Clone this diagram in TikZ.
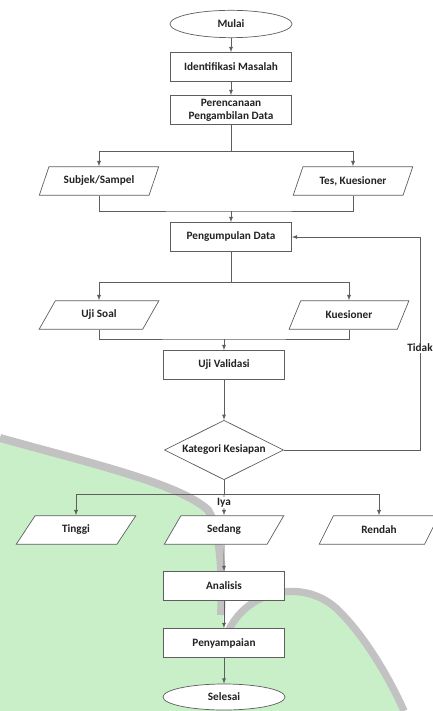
\documentclass[tikz,border=0pt]{standalone}
\usepackage{fontspec}
\setmainfont{Carlito}
\usepackage{tikz}
\usetikzlibrary{arrows,shapes.geometric}

\definecolor{linegray}{HTML}{5E5E5E}
\definecolor{textgray}{HTML}{222222}
\definecolor{wmgreen}{HTML}{C9EFC9}
\definecolor{wmgray}{HTML}{C2C2C2}

\tikzset{
    base/.style={draw=linegray, line width=0.6pt, fill=white, text=textgray,
        font=\bfseries\fontsize{9.6}{11}\selectfont, inner sep=1pt, align=center},
    terminal/.style={base, ellipse, minimum width=3.66cm, minimum height=0.82cm},
    process/.style={base, rectangle, minimum width=3.63cm, minimum height=0.87cm},
    data/.style={base, trapezium, trapezium left angle=60, trapezium right angle=120,
        trapezium stretches=true, minimum width=3.6cm, minimum height=0.86cm},
    decision/.style={base, diamond, shape aspect=1.68, minimum width=3.57cm, inner sep=0pt},
    arr/.style={draw=linegray, line width=0.6pt, -latex},
    link/.style={draw=linegray, line width=0.6pt},
    lbl/.style={fill=white, text=textgray, font=\bfseries\fontsize{9.6}{11}\selectfont, inner sep=1pt}
}

\begin{document}
\begin{tikzpicture}[x=0.03cm, y=-0.03cm]
    \useasboundingbox (0,0) rectangle (433,711);

    \fill[wmgreen] (0,438) .. controls (90,463) and (180,484) .. (208,510)
        .. controls (220,530) and (223,570) .. (224,640) -- (224,711) -- (0,711) -- cycle;
    \draw[wmgray, line width=0.24cm] (0,438) .. controls (90,463) and (180,484) .. (208,510)
        .. controls (220,530) and (223,570) .. (221,615);
    \fill[wmgreen] (220,711) -- (225,640) .. controls (240,590) and (305,575) .. (340,612)
        .. controls (370,642) and (395,690) .. (404,711) -- cycle;
    \draw[wmgray, line width=0.22cm] (225,640) .. controls (240,590) and (305,575) .. (340,612)
        .. controls (370,642) and (395,690) .. (404,711);

    \node[terminal] (mulai) at (231,24) {Mulai};
    \node[process] (identifikasi) at (231,67) {Identifikasi Masalah};
    \node[process] (perencanaan) at (231,110) {Perencanaan\\Pengambilan Data};
    \node[data] (subjek) at (99,181) {Subjek/Sampel};
    \node[data] (tes) at (353,181) {Tes, Kuesioner};
    \node[process] (pengumpulan) at (231,237) {Pengumpulan Data};
    \node[data] (ujisoal) at (99,315) {Uji Soal};
    \node[data] (kuesioner) at (349,315) {Kuesioner};
    \node[process] (ujivalidasi) at (224,365) {Uji Validasi};
    \node[decision] (kategori) at (224,450) {Kategori Kesiapan};
    \node[data] (tinggi) at (76,530) {Tinggi};
    \node[data] (sedang) at (224,530) {Sedang};
    \node[data] (rendah) at (379,530) {Rendah};
    \node[process] (analisis) at (224,586) {Analisis};
    \node[process] (penyampaian) at (224,643) {Penyampaian};
    \node[terminal, minimum height=0.78cm] (selesai) at (224,697) {Selesai};

    \coordinate (cabang1) at (231,151);
    \coordinate (gabung1) at (231,211);
    \coordinate (cabang2) at (231,282);
    \coordinate (gabung2) at (224,339);
    \coordinate (cabang3) at (224,494);
    \coordinate (balik) at (420,0);

    \draw[arr] (mulai) -- (identifikasi);
    \draw[arr] (identifikasi) -- (perencanaan);
    \draw[link] (perencanaan) -- (cabang1);
    \draw[arr] (cabang1) -| (subjek);
    \draw[arr] (cabang1) -| (tes);
    \draw[link] (subjek) |- (gabung1) -| (tes);
    \draw[arr] (gabung1) -- (pengumpulan);
    \draw[link] (pengumpulan) -- (cabang2);
    \draw[arr] (cabang2) -| (ujisoal);
    \draw[arr] (cabang2) -| (kuesioner);
    \draw[link] (ujisoal) |- (gabung2) -| (kuesioner);
    \draw[arr] (gabung2) -- (ujivalidasi);
    \draw[arr] (ujivalidasi) -- (kategori);
    \draw[arr] (kategori) -- (kategori -| balik)
        -- node[lbl, pos=0.48] {Tidak} (pengumpulan -| balik) -- (pengumpulan);
    \draw[link] (kategori) -- (cabang3);
    \draw[arr] (cabang3) -| (tinggi);
    \draw[arr] (cabang3) -| (rendah);
    \draw[arr] (cabang3) -- node[lbl, pos=0.4] {Iya} (sedang);
    \draw[arr] (sedang) -- (analisis);
    \draw[arr] (analisis) -- (penyampaian);
    \draw[arr] (penyampaian) -- (selesai);
\end{tikzpicture}
\end{document}
